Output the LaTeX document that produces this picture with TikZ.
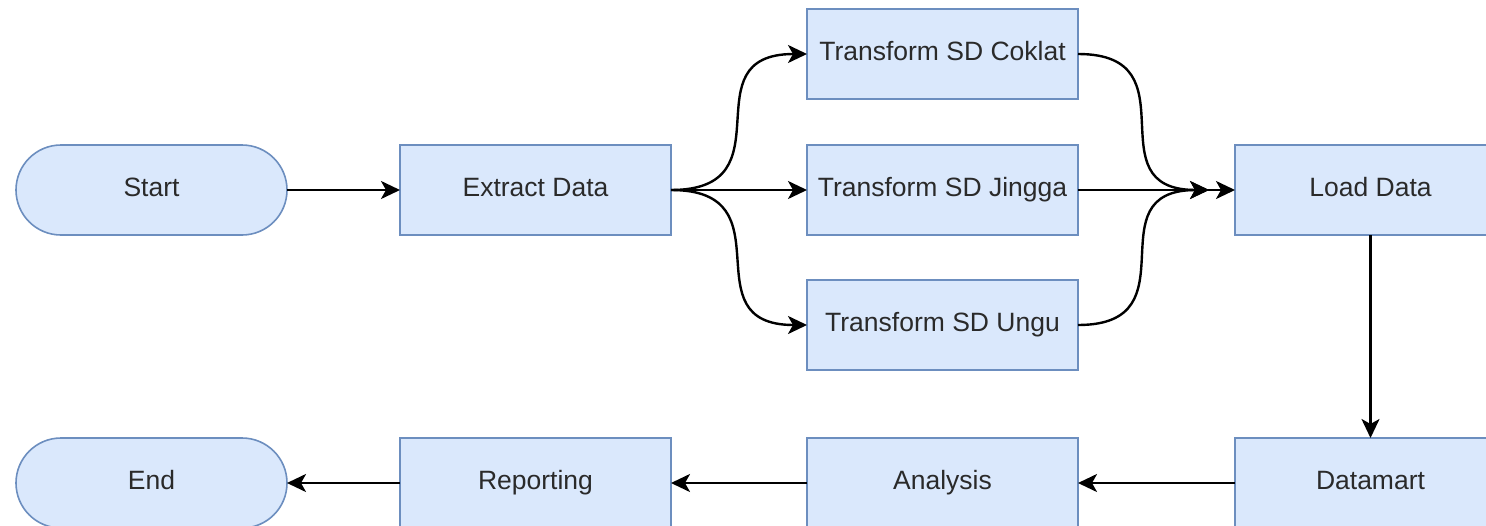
\documentclass[tikz,border=0pt]{standalone}
\usepackage{fontspec}
\setmainfont{Liberation Sans}
\usetikzlibrary{arrows.meta}
\definecolor{boxfill}{HTML}{DAE8FC}
\definecolor{boxline}{HTML}{6C8EBF}
\definecolor{txt}{HTML}{2A2A2A}
\tikzset{
  box/.style={draw=boxline, fill=boxfill, line width=1.6pt, minimum width=271pt, minimum height=90pt,
    inner sep=0pt, outer sep=0pt, font=\fontsize{26.5}{30}\selectfont, text=txt,
    execute at begin node=\strut},
  terminal/.style={box, rounded corners=45pt},
  arr/.style={line width=2.4pt, -{Stealth[length=19pt,width=18pt,inset=5pt]}},
}
\begin{document}
\begin{tikzpicture}[x=1pt,y=-1pt]
\useasboundingbox (0,0) rectangle (1486,525);
\clip (0,0) rectangle (1486,525);
\node[terminal] (start) at (151.5,190) {Start};
\node[box] (ext) at (535.5,190) {Extract Data};
\node[box] (tc) at (942.5,54) {Transform SD Coklat};
\node[box] (tj) at (942.5,190) {Transform SD Jingga};
\node[box] (tu) at (942.5,325) {Transform SD Ungu};
\node[box] (ld) at (1370.5,190) {Load Data};
\node[box] (dm) at (1370.5,483) {Datamart};
\node[box] (an) at (942.5,483) {Analysis};
\node[box] (rep) at (535.5,483) {Reporting};
\node[terminal] (end) at (151.5,483) {End};
\coordinate (m) at ([xshift=-26pt]ld.west);

\draw[arr] (start) -- (ext);
\draw[arr] (ext.east) to[out=0,in=180,looseness=1.6] (tc.west);
\draw[arr] (ext) -- (tj);
\draw[arr] (ext.east) to[out=0,in=180,looseness=1.6] (tu.west);
\draw[arr] (tc.east) to[out=0,in=180,looseness=1.6] (m);
\draw[arr] (tu.east) to[out=0,in=180,looseness=1.6] (m);
\draw[arr] (tj) -- (ld);
\draw[arr] (ld) -- (dm);
\draw[arr] (dm) -- (an);
\draw[arr] (an) -- (rep);
\draw[arr] (rep) -- (end);
\end{tikzpicture}
\end{document}
